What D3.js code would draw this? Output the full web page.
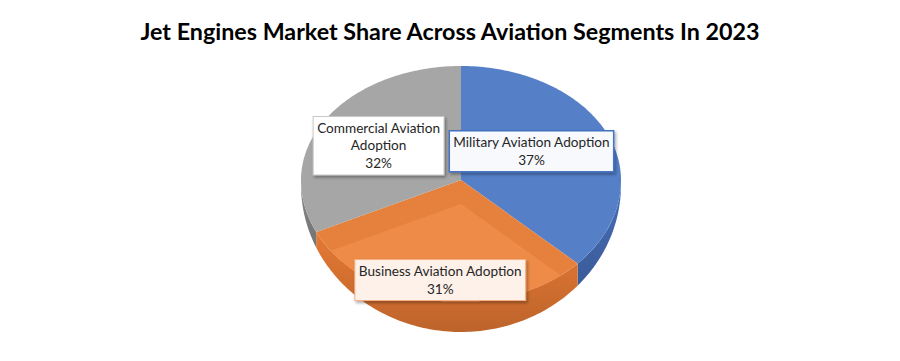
<!DOCTYPE html>
<html>
<head>
<meta charset="utf-8">
<script src="https://cdn.jsdelivr.net/npm/d3@7"></script>
<style>
  body { margin: 0; background: #fff; }
  svg { display: block; font-family: Lato, "Open Sans", sans-serif; }
</style>
</head>
<body>
<svg width="900" height="361"></svg>
<script>
var title = "Jet Engines Market Share Across Aviation Segments In 2023";
var categories = ["Military Aviation Adoption", "Business Aviation Adoption", "Commercial Aviation Adoption"];
var shares = [37, 31, 32];
var labelLines = [
  ["Military Aviation Adoption", "37%"],
  ["Business Aviation Adoption", "31%"],
  ["Commercial Aviation", "Adoption", "32%"]
];
var topColors = ["#5580C8", "#E5803D", "#A6A6A6"];
var sideColors = ["#3F62A3", "#CB6B2E", "#7A7A7A"];

var svg = d3.select("svg"),
    width = +svg.attr("width"),
    height = +svg.attr("height");

// pie geometry: flattened ellipse, front half a bit deeper (perspective), thickness
var cx = 461, cy = 180, rx = 160, ryBack = 114, ryFront = 122;

function ry(a) { return Math.cos(a) > 0 ? ryBack : ryFront; }
function depth(a) { return Math.max(0, 5 + 25 * -Math.cos(a)); }

var defs = svg.append("defs");
var shadow = defs.append("filter").attr("id", "shadow")
    .attr("x", "-20%").attr("y", "-20%").attr("width", "140%").attr("height", "150%");
shadow.append("feDropShadow").attr("dx", 1.5).attr("dy", 2).attr("stdDeviation", 1.5)
    .attr("flood-color", "#000").attr("flood-opacity", 0.35);

var arcs = d3.pie().sort(null).value(function(d) { return d; })(shares);

function pt(a, r, yoff) {
  return [cx + rx * r * Math.sin(a), cy + (yoff || 0) - ry(a) * r * Math.cos(a)];
}
function arcPts(a0, a1, yoff, withDepth) {
  var n = Math.max(2, Math.ceil((a1 - a0) / 0.02));
  return d3.range(n + 1).map(function(i) {
    var a = a0 + (a1 - a0) * i / n;
    return pt(a, 1, (yoff || 0) + (withDepth ? depth(a) : 0));
  });
}
var line = d3.line();

// outline of the whole top face, used to clip the bevel
defs.append("clipPath").attr("id", "topClip")
  .append("path").attr("d", line(arcPts(0, 2 * Math.PI, 0)) + "Z");

// side walls (front half only)
var sides = svg.append("g").attr("class", "sides");
arcs.forEach(function(d, i) {
  var a0 = Math.max(d.startAngle, Math.PI / 2),
      a1 = Math.min(d.endAngle, 3 * Math.PI / 2);
  if (a1 <= a0) return;
  var g = defs.append("linearGradient").attr("id", "side" + i)
      .attr("x1", 0).attr("y1", 0).attr("x2", 0).attr("y2", 1);
  g.append("stop").attr("offset", "0%").attr("stop-color", d3.color(sideColors[i]).brighter(0.35));
  g.append("stop").attr("offset", "100%").attr("stop-color", d3.color(sideColors[i]).darker(0.2));
  var pts = arcPts(a0, a1, 0, false).concat(arcPts(a0, a1, 0, true).reverse());
  sides.append("path")
      .attr("d", line(pts) + "Z")
      .attr("fill", "url(#side" + i + ")");
});

// top faces
var tops = svg.append("g").attr("class", "tops");
arcs.forEach(function(d, i) {
  var pts = [[cx, cy]].concat(arcPts(d.startAngle, d.endAngle, 0));
  tops.append("path")
      .attr("d", line(pts) + "Z")
      .attr("fill", topColors[i]);
  if (i === 1) {
    // bevel on the business slice: lighter inner face
    var inner = [[cx, cy + 24]].concat(arcPts(d.startAngle, d.endAngle, 24));
    tops.append("path")
        .attr("d", line(inner) + "Z")
        .attr("clip-path", "url(#topClip)")
        .attr("fill", "#EF8B48");
  }
});

// title
svg.append("text")
    .attr("x", 450).attr("y", 40)
    .attr("text-anchor", "middle")
    .attr("font-size", 23.3).attr("font-weight", "bold")
    .attr("fill", "#000")
    .text(title);

// data labels
var labelPos = [
  { r: 0.48, dx: 0, dy: -7, fill: "#F7F9FD", stroke: "#4472C4", sw: 1.5 },
  { r: 0.83, dx: 0, dy: 0, fill: "#FDF1E9", stroke: "#F4B183", sw: 1 },
  { r: 0.61, dx: 0, dy: 3, fill: "#FFFFFF", stroke: "#C8C8C8", sw: 1 }
];
var lh = 17.5, fs = 13.6;
var labels = svg.append("g").attr("class", "labels");
arcs.forEach(function(d, i) {
  var mid = (d.startAngle + d.endAngle) / 2,
      p = pt(mid, labelPos[i].r),
      lx = p[0] + labelPos[i].dx,
      ly = p[1] + labelPos[i].dy,
      lines = labelLines[i];
  var g = labels.append("g");
  var rect = g.append("rect").attr("filter", "url(#shadow)")
      .attr("fill", labelPos[i].fill)
      .attr("stroke", labelPos[i].stroke)
      .attr("stroke-width", labelPos[i].sw);
  var t = g.append("text")
      .attr("text-anchor", "middle")
      .attr("font-size", fs)
      .attr("fill", "#262626");
  lines.forEach(function(s, j) {
    t.append("tspan")
        .attr("x", lx)
        .attr("y", ly - (lines.length - 1) * lh / 2 + j * lh + fs * 0.35)
        .text(s);
  });
  var bb = t.node().getBBox();
  rect.attr("x", bb.x - 4).attr("y", ly - lines.length * lh / 2 - 3)
      .attr("width", bb.width + 8).attr("height", lines.length * lh + 6);
});
</script>
</body>
</html>
